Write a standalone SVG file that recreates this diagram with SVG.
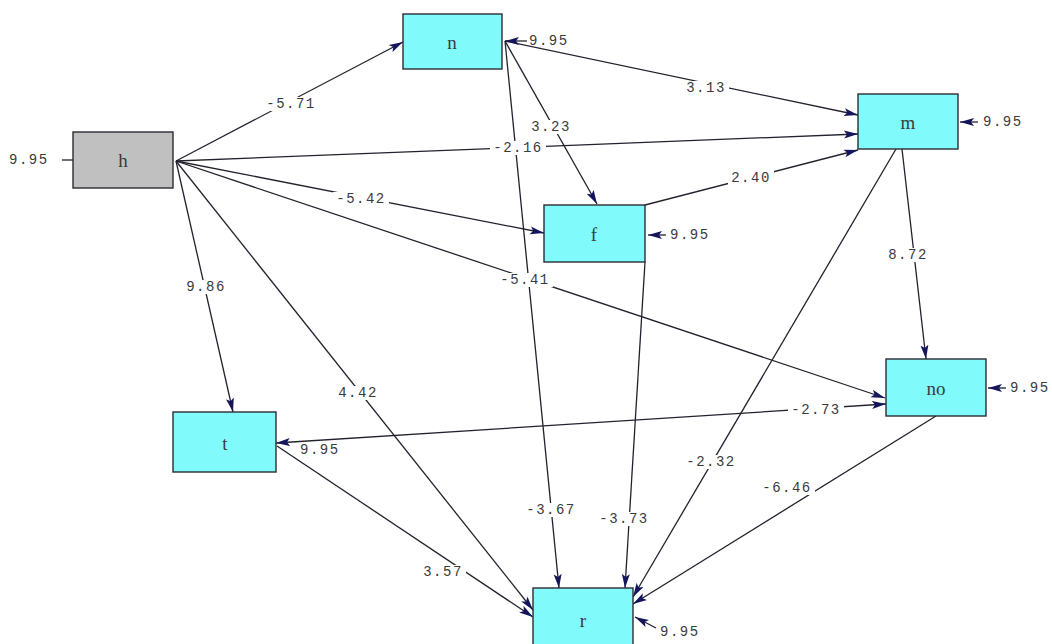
<svg xmlns="http://www.w3.org/2000/svg" width="1052" height="644" viewBox="0 0 1052 644">
<style>
.bg{fill:#ffffff}
.node rect{stroke:#2b2b33;stroke-width:1.4}
.endo rect{fill:#80fafa}
.exo rect{fill:#c0c0c0}
.node text{font-family:"Liberation Serif","DejaVu Serif",serif;font-size:19px;fill:#3a3a3a;text-anchor:middle;dominant-baseline:central}
.e{stroke:#22222e;stroke-width:1.3;fill:none;marker-end:url(#a)}
.eb{stroke:#22222e;stroke-width:1.3;fill:none;marker-end:url(#a);marker-start:url(#as)}
.r{stroke:#22222e;stroke-width:1.3;fill:none}
.g5{fill:#ffffff;width:56px;height:14px}
.g4{fill:#ffffff;width:46px;height:14px}
.lbl{font-family:"Liberation Mono","DejaVu Sans Mono",monospace;font-size:14px;letter-spacing:1.5px;fill:#3a3a3a;text-anchor:middle;dominant-baseline:central}
.rl{font-family:"Liberation Mono","DejaVu Sans Mono",monospace;font-size:14px;letter-spacing:1.5px;fill:#3a3a3a;dominant-baseline:central}
</style>
<defs>
<marker id="a" viewBox="0 0 14 9" refX="14" refY="4.5" markerWidth="14" markerHeight="9" orient="auto" markerUnits="userSpaceOnUse"><path d="M0,0.5 L14,4.5 L0,8.5 L3,4.5 z" fill="#15155c"/></marker>
<marker id="as" viewBox="0 0 14 9" refX="0" refY="4.5" markerWidth="14" markerHeight="9" orient="auto" markerUnits="userSpaceOnUse"><path d="M14,0.5 L0,4.5 L14,8.5 L11,4.5 z" fill="#15155c"/></marker>
</defs>
<rect class="bg" x="0" y="0" width="1052" height="644"/>
<g id="connectors">
<line class="e" x1="176" y1="161" x2="403" y2="42"/>
<line class="e" x1="176" y1="161" x2="858" y2="134"/>
<line class="e" x1="176" y1="161" x2="544" y2="233"/>
<line class="e" x1="176" y1="161" x2="885" y2="398"/>
<line class="e" x1="176" y1="161" x2="233" y2="412"/>
<line class="e" x1="176" y1="161" x2="533" y2="610"/>
<line class="e" x1="505" y1="41" x2="858" y2="115"/>
<line class="e" x1="505" y1="41" x2="597" y2="204"/>
<line class="e" x1="505" y1="41" x2="559" y2="588"/>
<line class="e" x1="645" y1="205" x2="858" y2="150"/>
<line class="e" x1="645" y1="262" x2="625" y2="588"/>
<line class="e" x1="902" y1="149" x2="926" y2="359"/>
<line class="e" x1="896" y1="149" x2="633" y2="597"/>
<line class="eb" x1="276" y1="443" x2="886" y2="404"/>
<line class="e" x1="277" y1="446" x2="533" y2="617"/>
<line class="e" x1="936" y1="416" x2="633" y2="604"/>
<line class="r" x1="62" y1="160" x2="73" y2="160"/>
<line class="e" x1="527" y1="41" x2="505" y2="41"/>
<line class="e" x1="978" y1="122" x2="960" y2="122"/>
<line class="e" x1="666" y1="235" x2="648" y2="235"/>
<line class="e" x1="1006" y1="388" x2="988" y2="388"/>
<line class="e" x1="656" y1="628" x2="635" y2="617"/>
<rect class="g5" x="263" y="97"/>
<rect class="g5" x="490" y="141"/>
<rect class="g5" x="333" y="192"/>
<rect class="g5" x="497" y="273"/>
<rect class="g4" x="183" y="280"/>
<rect class="g4" x="335" y="386"/>
<rect class="g4" x="683" y="81"/>
<rect class="g4" x="528" y="120"/>
<rect class="g5" x="523" y="503"/>
<rect class="g4" x="728" y="171"/>
<rect class="g5" x="596" y="512"/>
<rect class="g4" x="885" y="248"/>
<rect class="g5" x="683" y="455"/>
<rect class="g5" x="788" y="403"/>
<rect class="g4" x="420" y="565"/>
<rect class="g5" x="759" y="481"/>
<text class="lbl" x="291" y="104">-5.71</text>
<text class="lbl" x="518" y="148">-2.16</text>
<text class="lbl" x="361" y="199">-5.42</text>
<text class="lbl" x="525" y="280">-5.41</text>
<text class="lbl" x="206" y="287">9.86</text>
<text class="lbl" x="358" y="393">4.42</text>
<text class="lbl" x="706" y="88">3.13</text>
<text class="lbl" x="551" y="127">3.23</text>
<text class="lbl" x="551" y="510">-3.67</text>
<text class="lbl" x="751" y="178">2.40</text>
<text class="lbl" x="624" y="519">-3.73</text>
<text class="lbl" x="908" y="255">8.72</text>
<text class="lbl" x="711" y="462">-2.32</text>
<text class="lbl" x="816" y="410">-2.73</text>
<text class="lbl" x="443" y="572">3.57</text>
<text class="lbl" x="787" y="488">-6.46</text>
<text class="rl" x="9" y="160">9.95</text>
<text class="rl" x="529" y="41">9.95</text>
<text class="rl" x="983" y="122">9.95</text>
<text class="rl" x="670" y="235">9.95</text>
<text class="rl" x="1010" y="388">9.95</text>
<text class="rl" x="300" y="450">9.95</text>
<text class="rl" x="660" y="632">9.95</text>
</g>
<g id="node-h" class="node exo"><rect x="73" y="132" width="100" height="56"/><text x="123" y="160">h</text></g>
<g id="node-n" class="node endo"><rect x="403" y="14" width="99" height="55"/><text x="452" y="42">n</text></g>
<g id="node-m" class="node endo"><rect x="858" y="94" width="100" height="55"/><text x="908" y="122">m</text></g>
<g id="node-f" class="node endo"><rect x="544" y="205" width="101" height="57"/><text x="594" y="234">f</text></g>
<g id="node-no" class="node endo"><rect x="886" y="359" width="100" height="57"/><text x="936" y="388">no</text></g>
<g id="node-t" class="node endo"><rect x="173" y="412" width="103" height="60"/><text x="225" y="443">t</text></g>
<g id="node-r" class="node endo"><rect x="533" y="588" width="100" height="60"/><text x="583" y="620">r</text></g>
</svg>
